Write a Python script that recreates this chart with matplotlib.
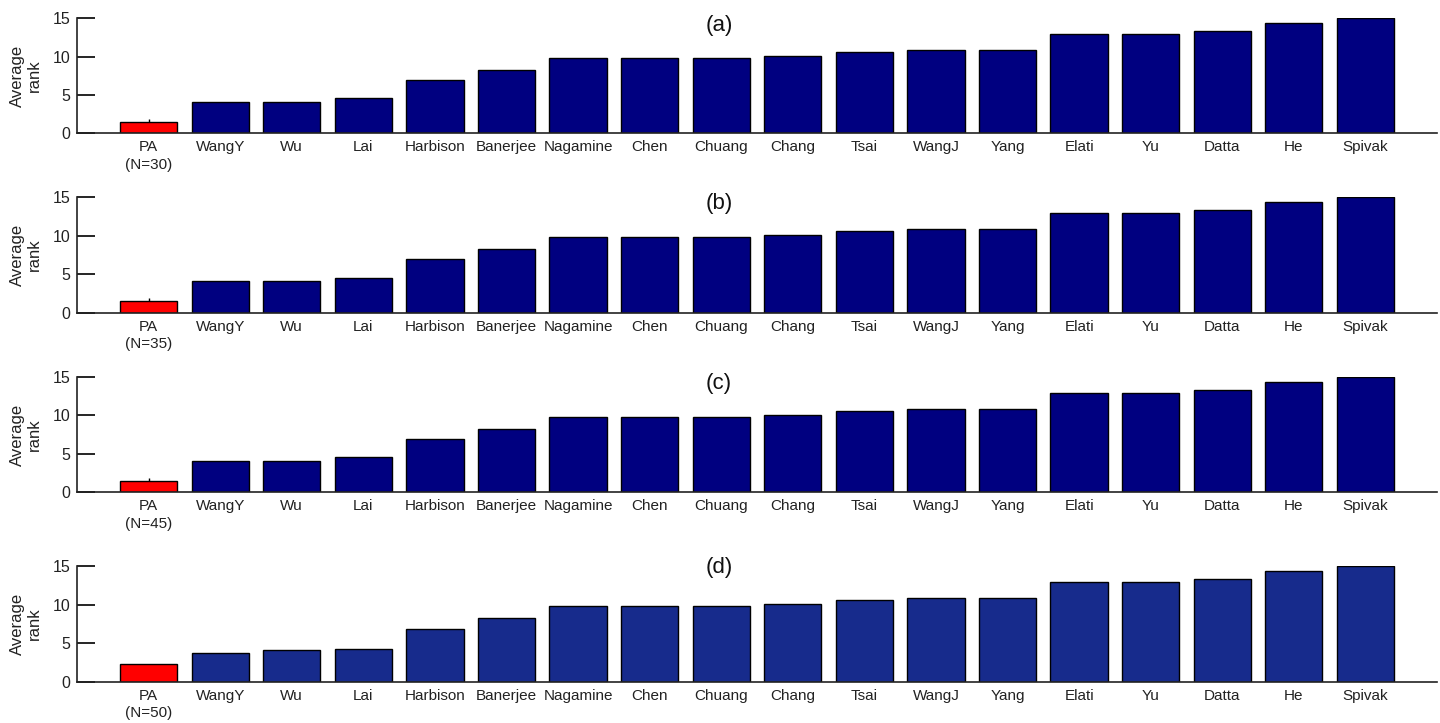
import matplotlib.pyplot as plt
import numpy as np

plt.rcParams['font.family'] = ['Liberation Sans', 'DejaVu Sans']

methods = ["PA", "WangY", "Wu", "Lai", "Harbison", "Banerjee", "Nagamine", "Chen",
           "Chuang", "Chang", "Tsai", "WangJ", "Yang", "Elati", "Yu", "Datta", "He", "Spivak"]

panel_titles = ["(a)", "(b)", "(c)", "(d)"]
sample_sizes = [30, 35, 45, 50]

rank_abc = [1.5, 4.1, 4.1, 4.56, 6.9, 8.25, 9.8, 9.8, 9.8, 10.1, 10.55, 10.85, 10.85,
            12.9, 12.9, 13.35, 14.4, 15.05]
rank_d = [2.25, 3.76, 4.1, 4.24, 6.85, 8.25, 9.8, 9.8, 9.8, 10.1, 10.55, 10.85, 10.85,
          12.9, 12.9, 13.35, 14.4, 15.05]
ranks = [rank_abc, rank_abc, rank_abc, rank_d]
pa_err = [0.35, 0.35, 0.35, 0.0]

bar_colors = ["#000080", "#000080", "#000080", "#172b8c"]

W, H = 1440, 723
fig = plt.figure(figsize=(W / 100, H / 100), dpi=100)

# axes boxes in pixels: (top, bottom)
boxes = [(18.3, 133.3), (197.0, 312.7), (377.0, 492.3), (566.0, 681.7)]
title_y = [25, 204, 383, 567]
left_px, right_px = 77, 1437

for i, (top, bot) in enumerate(boxes):
    ax = fig.add_axes([left_px / W, 1 - bot / H, (right_px - left_px) / W, (bot - top) / H])
    x = np.arange(1, len(methods) + 1)
    vals = ranks[i]
    colors = ["#ff0000"] + [bar_colors[i]] * (len(methods) - 1)
    ax.bar(x, vals, width=0.8, color=colors, edgecolor="black", linewidth=1.0, zorder=2)
    if pa_err[i] > 0:
        ax.errorbar(x[0], vals[0], yerr=pa_err[i], fmt="none", ecolor="black",
                    elinewidth=1.0, capsize=0, zorder=1)
    ax.set_xlim(0, len(methods) + 1)
    ax.set_ylim(0, 15)
    ax.set_yticks([0, 5, 10, 15])
    labels = list(methods)
    labels[0] = f"PA\n(N={sample_sizes[i]})"
    ax.set_xticks(x)
    ax.set_xticklabels(labels, fontsize=11, color="#222222", va="top", linespacing=1.3)
    ax.tick_params(axis="x", length=0, pad=5)
    ax.tick_params(axis="y", direction="in", length=13, width=1.2, labelsize=11.5,
                   labelcolor="#222222", pad=4.5)
    for side in ("top", "right"):
        ax.spines[side].set_visible(False)
    for side in ("left", "bottom"):
        ax.spines[side].set_color("#222222")
        ax.spines[side].set_linewidth(1.2)
    ax.set_ylabel("Average\nrank", fontsize=12, color="#222222", linespacing=1.15)
    ax.yaxis.set_label_coords(-0.0257, 0.5)
    fig.text(719 / W, 1 - title_y[i] / H, panel_titles[i],
             ha="center", va="center", fontsize=16, color="#111111")

fig.savefig("out.png", dpi=100)
